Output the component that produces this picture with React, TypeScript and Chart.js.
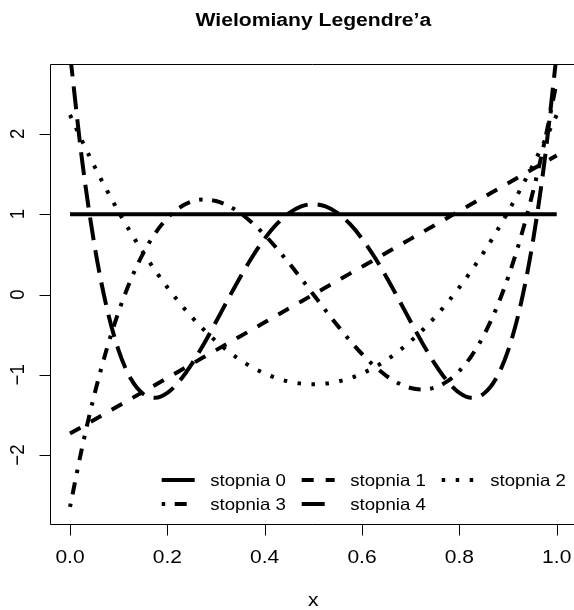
import React, { useEffect, useRef } from "react";
import { Chart, registerables } from "chart.js";

Chart.register(...registerables);

const titleText = "Wielomiany Legendre\u2019a";
const xAxisTitle = "x";
const seriesLabels = ["stopnia 0", "stopnia 1", "stopnia 2", "stopnia 3", "stopnia 4"];

const xs = [0, 0.025, 0.05, 0.075, 0.1, 0.125, 0.15, 0.175, 0.2, 0.225, 0.25, 0.275, 0.3, 0.325, 0.35, 0.375, 0.4, 0.425, 0.45, 0.475, 0.5, 0.525, 0.55, 0.575, 0.6, 0.625, 0.65, 0.675, 0.7, 0.725, 0.75, 0.775, 0.8, 0.825, 0.85, 0.875, 0.9, 0.925, 0.95, 0.975, 1];

const deg0 = [1, 1, 1, 1, 1, 1, 1, 1, 1, 1, 1, 1, 1, 1, 1, 1, 1, 1, 1, 1, 1, 1, 1, 1, 1, 1, 1, 1, 1, 1, 1, 1, 1, 1, 1, 1, 1, 1, 1, 1, 1];
const deg1 = [-1.7321, -1.6454, -1.5588, -1.4722, -1.3856, -1.299, -1.2124, -1.1258, -1.0392, -0.9526, -0.866, -0.7794, -0.6928, -0.6062, -0.5196, -0.433, -0.3464, -0.2598, -0.1732, -0.0866, 0, 0.0866, 0.1732, 0.2598, 0.3464, 0.433, 0.5196, 0.6062, 0.6928, 0.7794, 0.866, 0.9526, 1.0392, 1.1258, 1.2124, 1.299, 1.3856, 1.4722, 1.5588, 1.6454, 1.7321];
const deg2 = [2.2361, 1.909, 1.5988, 1.3053, 1.0286, 0.7686, 0.5255, 0.2991, 0.0894, -0.1034, -0.2795, -0.4388, -0.5814, -0.7071, -0.8162, -0.9084, -0.9839, -1.0426, -1.0845, -1.1096, -1.118, -1.1096, -1.0845, -1.0426, -0.9839, -0.9084, -0.8162, -0.7071, -0.5814, -0.4388, -0.2795, -0.1034, 0.0894, 0.2991, 0.5255, 0.7686, 1.0286, 1.3053, 1.5988, 1.909, 2.2361];
const deg3 = [-2.6458, -1.9008, -1.2501, -0.6887, -0.2117, 0.186, 0.5093, 0.7631, 0.9525, 1.0823, 1.1575, 1.1832, 1.1641, 1.1054, 1.012, 0.8888, 0.7408, 0.573, 0.3902, 0.1976, 0, -0.1976, -0.3902, -0.573, -0.7408, -0.8888, -1.012, -1.1054, -1.1641, -1.1832, -1.1575, -1.0823, -0.9525, -0.7631, -0.5093, -0.186, 0.2117, 0.6887, 1.2501, 1.9008, 2.6458];
const deg4 = [3.0, 1.6623, 0.6238, -0.1518, -0.699, -1.0503, -1.2362, -1.2852, -1.224, -1.0771, -0.8672, -0.6149, -0.339, -0.0562, 0.2188, 0.4731, 0.696, 0.8785, 1.0138, 1.097, 1.125, 1.097, 1.0138, 0.8785, 0.696, 0.4731, 0.2188, -0.0562, -0.339, -0.6149, -0.8672, -1.0771, -1.224, -1.2852, -1.2362, -1.0503, -0.699, -0.1518, 0.6238, 1.6623, 3.0];

const xTickValues = [0, 0.2, 0.4, 0.6, 0.8, 1.0];
const xTickLabels = ["0.0", "0.2", "0.4", "0.6", "0.8", "1.0"];
const yTickValues = [-2, -1, 0, 1, 2];
const yTickLabels = ["\u22122", "\u22121", "0", "1", "2"];

// x range: R's 4% padding around [0, 1]; the right end of the plot box lies just past the image edge
const X_MIN = -0.0401;
const X_MAX = 1.0355;
const X_CENTER = 0.5;
const Y_MIN = -2.864;
const Y_MAX = 2.864;

const dashes: number[][] = [[], [12, 12], [3.5, 10.5], [3.5, 9.5, 12, 9.5], [23, 10]];
const LINE_W = 4;
const FONT = '"Liberation Sans", Arial, Helvetica, sans-serif';
const SX = 1.13; // horizontal stretch of glyphs seen in the reference

const W = 574;
const H = 610;

function drawText(ctx: CanvasRenderingContext2D, s: string, x: number, y: number) {
  ctx.save();
  ctx.translate(x, y);
  ctx.scale(SX, 1);
  ctx.fillText(s, 0, 0);
  ctx.restore();
}

const decorPlugin = {
  id: "decor",
  afterDraw(chart: any) {
    const ctx = chart.ctx as CanvasRenderingContext2D;
    const area = chart.chartArea;
    const xs_ = chart.scales.x;
    const ys_ = chart.scales.y;
    ctx.save();
    ctx.strokeStyle = "#000";
    ctx.fillStyle = "#000";
    ctx.lineWidth = 1;
    ctx.setLineDash([]);
    // box (right side falls outside the picture)
    ctx.beginPath();
    ctx.moveTo(W + 5, area.top);
    ctx.lineTo(area.left, area.top);
    ctx.lineTo(area.left, area.bottom);
    ctx.lineTo(W + 5, area.bottom);
    ctx.stroke();
    // ticks
    ctx.beginPath();
    xTickValues.forEach((v) => {
      const px = Math.round(xs_.getPixelForValue(v)) + 0.5;
      ctx.moveTo(px, area.bottom);
      ctx.lineTo(px, area.bottom + 11);
    });
    yTickValues.forEach((v) => {
      const py = Math.round(ys_.getPixelForValue(v)) + 0.5;
      ctx.moveTo(area.left, py);
      ctx.lineTo(area.left - 11, py);
    });
    ctx.stroke();
    // x tick labels
    ctx.font = `18.6px ${FONT}`;
    ctx.textAlign = "center";
    ctx.textBaseline = "alphabetic";
    xTickValues.forEach((v, i) => {
      drawText(ctx, xTickLabels[i], xs_.getPixelForValue(v), 563);
    });
    // y tick labels (rotated)
    yTickValues.forEach((v, i) => {
      ctx.save();
      ctx.translate(24, ys_.getPixelForValue(v));
      ctx.scale(SX, 1);
      ctx.rotate(-Math.PI / 2);
      ctx.fillText(yTickLabels[i], 0, 0);
      ctx.restore();
    });
    // axis title
    const cx = xs_.getPixelForValue(X_CENTER);
    drawText(ctx, xAxisTitle, cx, 606);
    // title
    ctx.font = `bold 18.7px ${FONT}`;
    drawText(ctx, titleText, cx, 26);
    // legend
    const colX = [161.7, 301.7, 441.7];
    const rowY = [480, 504];
    ctx.font = `16.5px ${FONT}`;
    ctx.textAlign = "left";
    ctx.textBaseline = "middle";
    seriesLabels.forEach((lab, i) => {
      const c = i % 3;
      const r = Math.floor(i / 3);
      const x0 = colX[c];
      const y0 = rowY[r];
      ctx.save();
      ctx.lineWidth = LINE_W;
      ctx.lineCap = "butt";
      ctx.setLineDash(dashes[i]);
      ctx.beginPath();
      ctx.moveTo(x0, y0);
      ctx.lineTo(x0 + 33, y0);
      ctx.stroke();
      ctx.restore();
      drawText(ctx, lab, x0 + 48.5, y0 + 1);
    });
    ctx.restore();
  },
};

export default function App() {
  const ref = useRef<HTMLCanvasElement | null>(null);
  useEffect(() => {
    if (!ref.current) return;
    const series = [deg0, deg1, deg2, deg3, deg4];
    const chart = new Chart(ref.current, {
      type: "line",
      data: {
        datasets: series.map((ys, i) => ({
          label: seriesLabels[i],
          data: xs.map((x, j) => ({ x, y: ys[j] })),
          borderColor: "#000",
          borderWidth: LINE_W,
          borderDash: dashes[i],
          borderCapStyle: "butt",
          pointRadius: 0,
          fill: false,
          cubicInterpolationMode: "monotone",
          clip: 0,
        })),
      },
      options: {
        animation: false,
        responsive: false,
        devicePixelRatio: 1,
        layout: { padding: { left: 50.5, top: 64.5, right: 0, bottom: H - 524.5 } },
        plugins: { legend: { display: false }, title: { display: false }, tooltip: { enabled: false } },
        events: [],
        scales: {
          x: { type: "linear", min: X_MIN, max: X_MAX, display: false },
          y: { type: "linear", min: Y_MIN, max: Y_MAX, display: false },
        },
      },
      plugins: [decorPlugin],
    } as any);
    return () => chart.destroy();
  }, []);
  return (
    <div style={{ position: "fixed", left: 0, top: 0, width: W, height: H, overflow: "hidden", background: "#fff" }}>
      <canvas ref={ref} width={W} height={H} style={{ display: "block", width: W, height: H }} />
    </div>
  );
}
